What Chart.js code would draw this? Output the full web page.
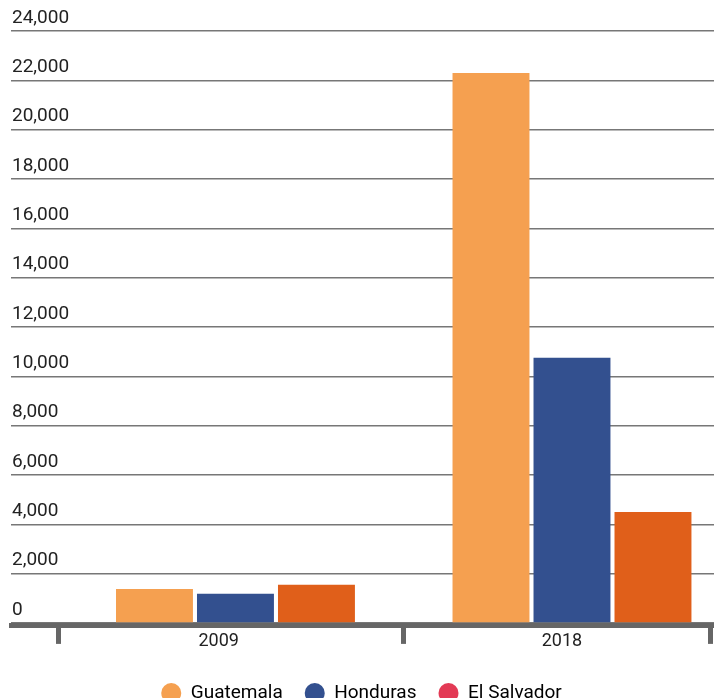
<!DOCTYPE html>
<html>
<head>
<meta charset="utf-8">
<script src="https://cdn.jsdelivr.net/npm/chart.js@4.4.1/dist/chart.umd.min.js"></script>
<style>
  html, body { margin: 0; padding: 0; background: #fff; }
  #wrap { width: 714px; height: 698px; position: relative; }
</style>
</head>
<body>
<div id="wrap"><canvas id="chart1"></canvas></div>
<script>
const categories = ['2009', '2018'];
const seriesNames = ['Guatemala', 'Honduras', 'El Salvador'];
const guatemala = [1380, 22300];
const honduras = [1180, 10750];
const elSalvador = [1550, 4500];
const barColors = ['#f5a050', '#33508f', '#e05f1a'];
const legendColors = ['#f5a050', '#33508f', '#e33a55'];
const yTicks = [0, 2000, 4000, 6000, 8000, 10000, 12000, 14000, 16000, 18000, 20000, 22000, 24000];

// x axis runs in category-index units (0 = 2009, 1 = 2018)
const X_MIN = -0.667;
const X_MAX = 1.422;
const dividerTicks = [-0.525, 0.498, 1.413];
const labelTicks = [-0.05, 0.97];

const seriesValues = [guatemala, honduras, elSalvador];

Chart.defaults.font.family = 'Roboto';
Chart.defaults.font.size = 19;
Chart.defaults.color = '#222';

var ctx1 = document.querySelector('#chart1');

const chart1 = new Chart(ctx1, {
  type: 'bar',
  data: {
    datasets: seriesNames.map((name, i) => ({
      label: name,
      data: seriesValues[i].map((v, j) => ({ x: j, y: v })),
      backgroundColor: barColors[i],
      categoryPercentage: 0.722,
      barPercentage: 0.95,
      xAxisID: 'x'
    }))
  },
  options: {
    responsive: true,
    maintainAspectRatio: false,
    animation: false,
    layout: { padding: { left: 9, right: 0, top: 31, bottom: -14.5 } },
    plugins: {
      tooltip: { enabled: false },
      legend: {
        position: 'bottom',
        labels: {
          usePointStyle: true,
          pointStyle: 'circle',
          boxHeight: 14,
          pointStyleWidth: 20,
          padding: 22,
          color: '#222',
          font: { size: 19 },
          generateLabels: (chart) => chart.data.datasets.map((ds, i) => ({
            text: ds.label,
            fillStyle: legendColors[i],
            strokeStyle: legendColors[i],
            lineWidth: 0,
            pointStyle: 'circle',
            hidden: false,
            datasetIndex: i
          }))
        }
      }
    },
    scales: {
      x: {
        type: 'linear',
        display: false,
        offset: false,
        grid: { offset: false },
        min: X_MIN,
        max: X_MAX,
        afterBuildTicks: (axis) => {
          axis.ticks = categories.map((c, i) => ({ value: i }));
        }
      },
      xt: {
        type: 'linear',
        position: 'bottom',
        offset: false,
        min: X_MIN,
        max: X_MAX,
        afterBuildTicks: (axis) => {
          axis.ticks = [...dividerTicks, ...labelTicks]
            .sort((a, b) => a - b)
            .map(v => ({ value: v }));
        },
        ticks: {
          autoSkip: false,
          maxRotation: 0,
          padding: -13,
          color: '#222',
          font: { size: 18 },
          callback: (value) => {
            const k = labelTicks.indexOf(value);
            return k >= 0 ? categories[k] : '';
          }
        },
        grid: {
          offset: false,
          drawOnChartArea: false,
          tickLength: 18,
          tickColor: '#666',
          tickWidth: (c) => (c.tick && dividerTicks.includes(c.tick.value)) ? 5 : 0
        },
        border: { display: true, color: '#666', width: 5 },
        // empty title only keeps the gap between axis and legend
        title: { display: true, text: '', padding: 0, font: { size: 18.33 } }
      },
      y: {
        min: -120,
        max: 24000,
        afterBuildTicks: (axis) => {
          axis.ticks = yTicks.map(v => ({ value: v }));
        },
        ticks: {
          mirror: true,
          padding: 1,
          labelOffset: -13,
          color: '#222',
          font: { size: 19 },
          callback: (v) => v.toLocaleString('en-US')
        },
        grid: { drawTicks: false, color: '#777', lineWidth: 1.5 },
        border: { display: false }
      }
    }
  }
});
</script>
</body>
</html>
